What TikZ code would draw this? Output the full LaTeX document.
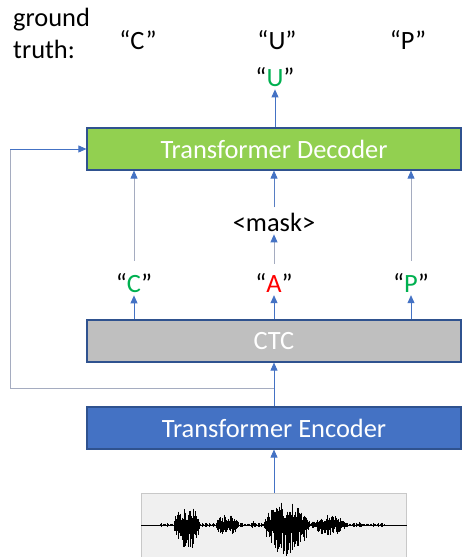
\documentclass[tikz,border=0pt]{standalone}
\usepackage{fontspec}
\setmainfont{Carlito}
\usetikzlibrary{arrows.meta,positioning}
\definecolor{decgreen}{RGB}{146,208,80}
\definecolor{ctcgray}{RGB}{191,191,191}
\definecolor{encblue}{RGB}{68,114,196}
\definecolor{edgeblue}{RGB}{47,82,143}
\definecolor{arrowblue}{RGB}{68,114,196}
\definecolor{linegray}{RGB}{165,172,192}
\definecolor{okgreen}{RGB}{0,176,80}
\definecolor{badred}{RGB}{255,0,0}
\definecolor{wavebg}{RGB}{240,240,240}
\definecolor{waveedge}{RGB}{200,200,200}
\newcommand{\slidefont}{\fontsize{26.4}{32}\selectfont}

\begin{document}
\begin{tikzpicture}[x=1pt, y=1pt,
    box/.style={draw=edgeblue, line width=1.2pt, rectangle, minimum width=374pt, minimum height=42pt, text=white, font=\slidefont},
    lbl/.style={font=\slidefont, inner sep=2pt},
    tip/.style={-{Triangle[length=8pt,width=7pt,color=arrowblue]}, line width=0.8pt}]
    \useasboundingbox (0,0) rectangle (462,557);

    \node[draw=waveedge, fill=wavebg, minimum width=265pt, minimum height=70pt] (wave) at (274,29) {};
    \node[box, fill=encblue] (encoder) at (274,129) {Transformer Encoder};
    \node[box, fill=ctcgray] (ctc) at (274,216) {CTC};
    \node[box, fill=decgreen] (decoder) at (274,408) {Transformer Decoder};

    \node[lbl, anchor=base] (ctcC) at (134,264) {“\textcolor{okgreen}{C}”};
    \node[lbl, anchor=base] (ctcA) at (274,264) {“\textcolor{badred}{A}”};
    \node[lbl, anchor=base] (ctcP) at (411,264) {“\textcolor{okgreen}{P}”};
    \node[lbl, anchor=base] (mask) at (274,325) {<mask>};
    \node[lbl, anchor=base] (outU) at (275,470) {“\textcolor{okgreen}{U}”};

    \node[lbl, anchor=base west, inner sep=0pt] (gtline1) at (13,530) {ground};
    \node[lbl, anchor=base west, inner sep=0pt] (gtline2) at (13,498) {truth:};
    \node[lbl, anchor=base] (gtC) at (138,507) {“C”};
    \node[lbl, anchor=base] (gtU) at (277,507) {“U”};
    \node[lbl, anchor=base] (gtP) at (408,507) {“P”};

    % waveform
    \draw[line width=0.5pt] (wave.west |- 0,32) -- (wave.east |- 0,32);
    \pgfmathsetseed{5}
    \foreach \i in {0,...,160} {
        \pgfmathsetmacro{\nz}{0.5+1.5*rnd}
        \draw[line width=0.4pt] (160+\i*1.4,32+\nz) -- (160+\i*1.4,32-\nz);
    }
    \foreach \bx/\bw/\ba/\bb in {173/27/21/28, 215/25/11/13, 251/3/4/4, 263/47/24/31, 310/37/10/11, 357/7/3/3} {
        \pgfmathtruncatemacro{\n}{\bw/0.9}
        \foreach \i in {0,...,\n} {
            \pgfmathsetmacro{\env}{sin(180*\i/\n)^0.6}
            \pgfmathsetmacro{\up}{\ba*\env*(0.25+0.75*rnd)}
            \pgfmathsetmacro{\dn}{\bb*\env*(0.25+0.75*rnd)}
            \draw[line width=0.6pt] (\bx+\i*0.9,32+\up) -- (\bx+\i*0.9,32-\dn);
        }
    }

    \coordinate (branch) at (274,169);
    \coordinate (fbbottom) at (10,169);
    \coordinate (fbtop) at (10,408);

    \draw[tip, arrowblue] (wave) -- (encoder);
    \draw[tip, arrowblue] (encoder) -- (ctc);
    \draw[linegray, line width=0.8pt] (branch) -- (fbbottom) -- (fbtop);
    \draw[tip, arrowblue] (fbtop) -- (decoder.west);

    \draw[tip, arrowblue] (ctc.north -| ctcC) -- (ctcC.south);
    \draw[tip, arrowblue] (ctc.north -| ctcA) -- (ctcA.south);
    \draw[tip, arrowblue] (ctc.north -| ctcP) -- (ctcP.south);

    \draw[tip, linegray, shorten <=11pt] (ctcC.north) -- (decoder.south -| ctcC);
    \draw[tip, linegray, shorten <=8pt] (ctcA.north) -- (mask.south);
    \draw[tip, linegray, shorten <=11pt] (ctcP.north) -- (decoder.south -| ctcP);
    \draw[tip, arrowblue!80!linegray, shorten <=4pt] (mask.north) -- (decoder.south -| mask);
    \draw[tip, arrowblue] (decoder.north -| outU) -- (outU.south);
\end{tikzpicture}
\end{document}
